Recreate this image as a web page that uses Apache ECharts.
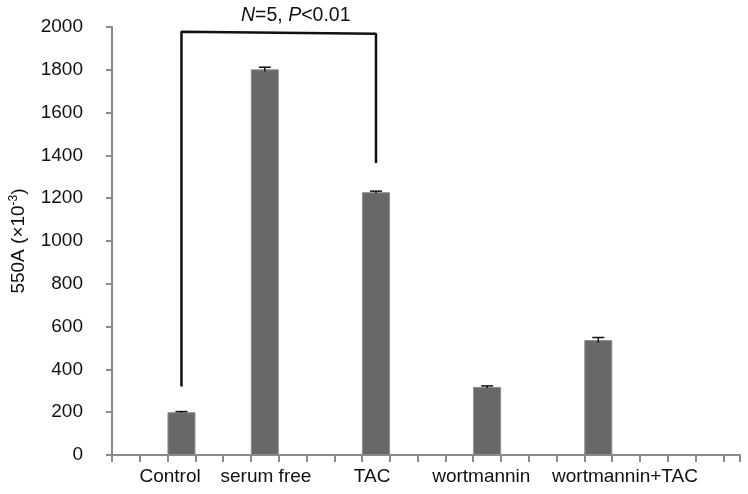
<!DOCTYPE html>
<html><head><meta charset="utf-8">
<script src="https://cdn.jsdelivr.net/npm/echarts@6/dist/echarts.min.js"></script>
<style>html,body{margin:0;padding:0;background:#fff}#c{width:748px;height:494px}</style>
</head><body><div id="c"></div>
<script>
// Data
const slotMax = 22.6;
const groups = ['Control', 'serum free', 'TAC', 'wortmannin', 'wortmannin+TAC'];
const barPositions = [2.5, 5.5, 9.5, 13.5, 17.5];
const values = [200, 1802, 1228, 318, 537];
const errors = [3, 10, 5, 5, 12];
const labelPositions = [2.09, 5.54, 9.36, 13.29, 18.46];
const yMin = 0, yMax = 2000, yStep = 200;
const bracket = [[2.5, 320], [2.5, 1978], [9.5, 1968], [9.5, 1365]];

const font = 'Liberation Sans, Arial, sans-serif';
const axisGray = '#8a8a8a';

const chart = echarts.init(document.getElementById('c'), null, {renderer: 'canvas'});
chart.setOption({
  animation: false,
  backgroundColor: '#fff',
  title: {
    text: '{i|N}=5, {i|P}<0.01',
    left: 236, top: 1,
    textStyle: {
      fontFamily: font, fontSize: 19.5, fontWeight: 'normal', color: '#111',
      rich: {
        i: { fontStyle: 'italic', fontFamily: font, fontSize: 19.5, color: '#111' },
      }
    }
  },
  grid: { left: 108, right: 8, top: 27, bottom: 39, containLabel: false },
  xAxis: {
    type: 'value', min: 0, max: slotMax, interval: 1,
    splitLine: { show: false },
    axisLine: { show: true, onZero: false, lineStyle: { color: axisGray, width: 2 } },
    axisTick: { show: true, length: 7, lineStyle: { color: axisGray, width: 2 } },
    axisLabel: {
      customValues: labelPositions,
      margin: 12,
      fontFamily: font, fontSize: 19, color: '#111',
      formatter: function (v) {
        let best = 0, d = 1e9;
        labelPositions.forEach((p, i) => { if (Math.abs(p - v) < d) { d = Math.abs(p - v); best = i; } });
        return groups[best];
      }
    }
  },
  yAxis: {
    type: 'value', min: yMin, max: yMax, interval: yStep,
    splitLine: { show: false },
    axisLine: { show: true, lineStyle: { color: axisGray, width: 2 } },
    axisTick: { show: true, length: 6, lineStyle: { color: axisGray, width: 2 } },
    axisLabel: { margin: 29, fontFamily: font, fontSize: 19, color: '#111', formatter: v => String(v) },
    name: '{n|550A (×10}{s|-3}{n|)}',
    nameLocation: 'middle', nameGap: 83, nameRotate: 90,
    nameTextStyle: {
      rich: {
        n: { fontFamily: font, fontSize: 19, color: '#111' },
        s: { fontFamily: font, fontSize: 12, color: '#111', verticalAlign: 'top', padding: [0, 0, 9, 0] }
      }
    }
  },
  series: [
    {
      type: 'bar',
      data: barPositions.map((x, i) => [x, values[i]]),
      barWidth: 28,
      itemStyle: { color: '#686868', borderColor: '#8c8c8c', borderWidth: 1 },
      z: 2
    },
    {
      type: 'custom',
      data: barPositions.map((x, i) => [x, values[i], errors[i]]),
      renderItem: function (params, api) {
        const x = api.value(0), v = api.value(1), e = api.value(2);
        const top = api.coord([x, v + e]);
        const bot = api.coord([x, v - e]);
        const hw = 6;
        const style = { stroke: '#111', lineWidth: 1.5 };
        return {
          type: 'group',
          children: [
            { type: 'line', shape: { x1: top[0], y1: top[1], x2: bot[0], y2: bot[1] }, style: style },
            { type: 'line', shape: { x1: top[0] - hw, y1: top[1], x2: top[0] + hw, y2: top[1] }, style: style }
          ]
        };
      },
      z: 3
    },
    {
      type: 'line',
      data: bracket,
      symbol: 'none',
      clip: false,
      lineStyle: { color: '#111', width: 2.5 },
      z: 4
    }
  ]
});
</script></body></html>
